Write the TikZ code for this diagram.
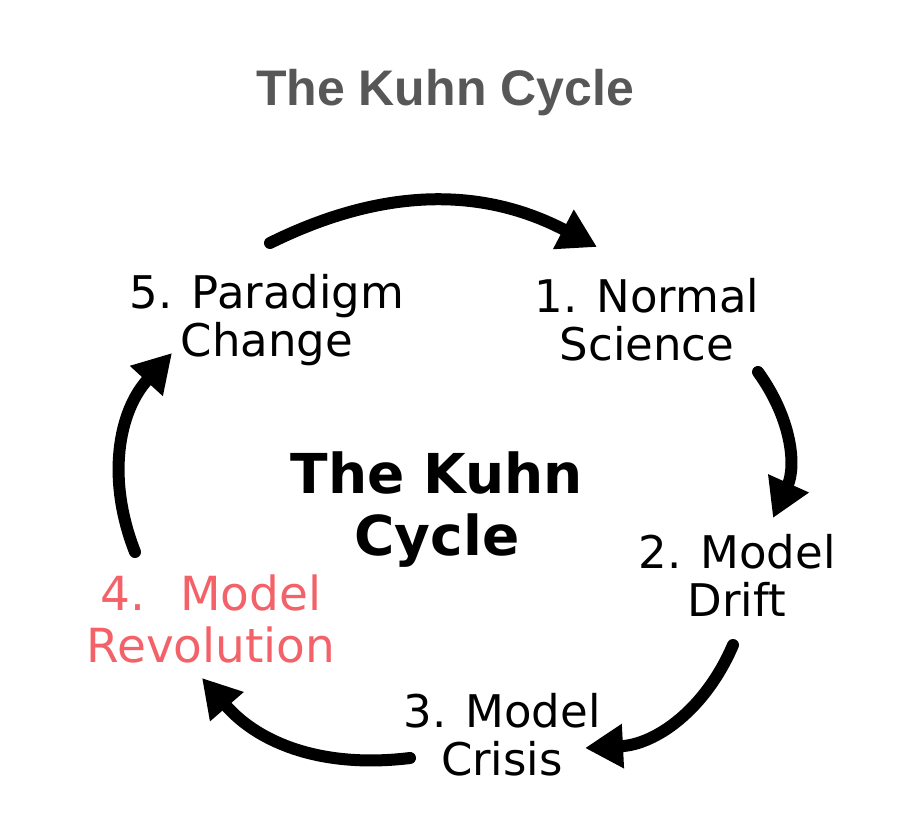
\documentclass[tikz,border=0pt]{standalone}
\usepackage{fontspec}
\setmainfont{DejaVu Sans}
\newfontfamily\headfont{Liberation Sans}
\usetikzlibrary{arrows.meta,positioning}
\definecolor{headgray}{HTML}{575757}
\definecolor{revred}{HTML}{F26268}
\tikzset{
    stage/.style={align=center,anchor=base,inner sep=0pt,font=\fontsize{45}{48}\selectfont},
    cyc/.style={line width=12pt,line cap=round,-{Triangle[length=38pt,width=42pt]}}
}

\begin{document}
\begin{tikzpicture}[x=1pt,y=1pt]
                \useasboundingbox (0,0) rectangle (906,-836);

                \node (title) [anchor=base,inner sep=0pt,text=headgray,
                    font=\headfont\bfseries\fontsize{50}{60}\selectfont]
                    at (445,-105) {The Kuhn Cycle};

                \node (kuhn) [anchor=base,align=center,inner sep=0pt,
                    font=\bfseries\fontsize{55}{62}\selectfont]
                    at (437,-555) {The Kuhn\\Cycle};

                \node (normal) [stage] at (647,-360) {1. Normal\\Science};
                \node (drift) [stage] at (737,-616) {2. Model\\Drift};
                \node (crisis) [stage] at (502,-775) {3. Model\\Crisis};
                \node (revolution) [stage,text=revred,font=\fontsize{47}{52}\selectfont]
                    at (211,-662) {4.~ Model\\Revolution};
                \node (paradigm) [stage] at (267,-356) {5. Paradigm\\Change};

                \coordinate (p-n) at (270,-243);
                \coordinate (n-p) at (597,-247);
                \coordinate (n-d) at (758,-372);
                \coordinate (d-n) at (773,-518);
                \coordinate (d-c) at (733,-645);
                \coordinate (c-d) at (585,-748);
                \coordinate (c-r) at (410,-758);
                \coordinate (r-c) at (202,-678);
                \coordinate (r-p) at (135,-552);
                \coordinate (p-r) at (172,-353);

                \draw [cyc] (p-n) to [bend left=27] (n-p);
                \draw [cyc] (n-d) to [bend left=30] (d-n);
                \draw [cyc] (d-c) to [bend left=32] (c-d);
                \draw [cyc] (c-r) to [bend left=28] (r-c);
                \draw [cyc] (r-p) to [bend left=32] (p-r);
            \end{tikzpicture}
\end{document}
